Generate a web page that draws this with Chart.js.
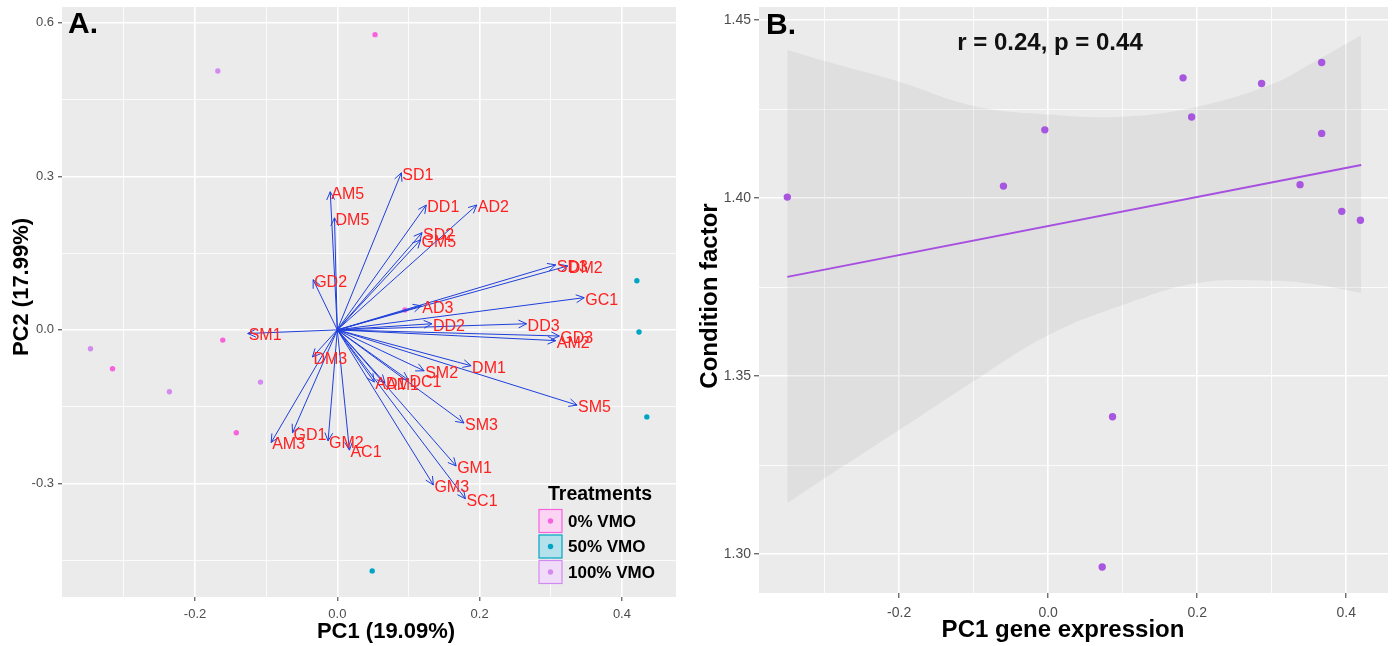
<!DOCTYPE html>
<html><head><meta charset="utf-8">
<script src="https://cdn.jsdelivr.net/npm/chart.js@4.4.1/dist/chart.umd.min.js"></script>
<style>
html,body{margin:0;padding:0;background:#fff;width:1395px;height:646px;overflow:hidden}
#ca{position:absolute;left:0;top:0}
#cb{position:absolute;left:680px;top:0}
</style></head><body>
<canvas id="ca" width="680" height="646"></canvas>
<canvas id="cb" width="715" height="646"></canvas>
<script>
// ---------- Panel A data (PCA biplot) ----------
const geneNames = ['SD1','AM5','DM5','DD1','AD2','SD2','GM5','SD3','DM2','GD2','GC1','AD3','DD2','DD3','GD3','AM2','DM1','SM2','SM5','SM3','GM1','GM3','SC1','AD1','AM1','DC1','DM3','GD1','AM3','GM2','AC1','SM1'];
const genePC1 = [0.090,-0.010,-0.004,0.125,0.196,0.119,0.117,0.307,0.324,-0.034,0.347,0.118,0.133,0.266,0.312,0.307,0.188,0.122,0.337,0.178,0.167,0.135,0.180,0.052,0.067,0.100,-0.035,-0.063,-0.093,-0.013,0.017,-0.126];
const genePC2 = [0.307,0.270,0.219,0.244,0.244,0.190,0.176,0.127,0.125,0.098,0.063,0.047,0.012,0.012,-0.012,-0.021,-0.070,-0.080,-0.147,-0.182,-0.266,-0.303,-0.330,-0.102,-0.104,-0.098,-0.053,-0.201,-0.220,-0.217,-0.235,-0.007];

const vmo0PC1 = [0.053,-0.161,-0.316,-0.142,0.095];
const vmo0PC2 = [0.577,-0.020,-0.076,-0.201,0.039];
const vmo50PC1 = [0.421,0.424,0.435,0.049];
const vmo50PC2 = [0.096,-0.004,-0.170,-0.471];
const vmo100PC1 = [-0.168,-0.347,-0.236,-0.108];
const vmo100PC2 = [0.506,-0.037,-0.121,-0.102];
const treatmentLabels = ['0% VMO','50% VMO','100% VMO'];

const pcaXTicks = [-0.3,-0.2,-0.1,0,0.1,0.2,0.3,0.4];
const pcaXMajor = [-0.2,0,0.2,0.4];
const pcaYTicks = [-0.45,-0.3,-0.15,0,0.15,0.3,0.45,0.6];
const pcaYMajor = [-0.3,0,0.3,0.6];

// ---------- Panel B data (correlation) ----------
const cfPC1 = [-0.350,-0.060,-0.0045,0.181,0.1925,0.2864,0.367,0.367,0.338,0.394,0.419,0.0864,0.0725];
const cfValue = [1.4003,1.4034,1.4192,1.4338,1.4228,1.4322,1.4381,1.4182,1.4038,1.3963,1.3938,1.3386,1.2964];
const fitX = [-0.35,0.42];
const fitY = [1.3779,1.4093];
const bandX = [-0.35,-0.3,-0.2,-0.1,0,0.1,0.2,0.3,0.35,0.42];
const bandUpper = [1.4416,1.4385,1.4327,1.4259,1.4235,1.4229,1.4257,1.4320,1.4375,1.4458];
const bandLower = [1.3143,1.3213,1.3349,1.3486,1.3615,1.3700,1.3762,1.3768,1.3760,1.3734];
const cfXTicks = [-0.3,-0.2,-0.1,0,0.1,0.2,0.3,0.4];
const cfXMajor = [-0.2,0,0.2,0.4];
const cfYTicks = [1.30,1.325,1.35,1.375,1.40,1.425,1.45];
const cfYMajor = [1.30,1.35,1.40,1.45];

// ---------- styles ----------
const FONT = '"Liberation Sans", Arial, sans-serif';
const PANEL_BG = '#EBEBEB';
const isIn = (arr, v) => arr.some(m => Math.abs(m - v) < 1e-9);
const pts = (xs, ys) => xs.map((x, i) => ({x, y: ys[i]}));

function gridOpts(majors, tickLen) {
  return {
    color: '#FFFFFF',
    lineWidth: c => (c.tick && isIn(majors, c.tick.value)) ? 1.6 : 0.8,
    tickColor: c => (c.tick && isIn(majors, c.tick.value)) ? '#333333' : 'rgba(0,0,0,0)',
    tickLength: tickLen, tickWidth: 1, drawTicks: true, drawOnChartArea: true
  };
}
function scaleOpts(min, max, ticks, majors, dec, size, pad, fontSize, tickLen) {
  return {
    type: 'linear', min, max,
    border: {display: false},
    grid: gridOpts(majors, tickLen),
    afterBuildTicks: s => { s.ticks = ticks.map(v => ({value: v})); },
    afterFit: s => {
      if (s.isHorizontal()) s.height = size; else s.width = size;
      s.paddingTop = 0; s.paddingBottom = 0; s.paddingLeft = 0; s.paddingRight = 0;
    },
    ticks: {
      autoSkip: false, maxRotation: 0, padding: pad, color: '#4D4D4D',
      font: {family: FONT, size: fontSize},
      callback: v => isIn(majors, v) ? v.toFixed(dec) : ''
    }
  };
}
const bgPlugin = {
  id: 'bg',
  beforeDraw(chart) {
    const {ctx, chartArea: a} = chart;
    ctx.save();
    ctx.fillStyle = '#FFFFFF';
    ctx.fillRect(0, 0, chart.width, chart.height);
    ctx.fillStyle = PANEL_BG;
    ctx.fillRect(a.left, a.top, a.right - a.left, a.bottom - a.top);
    ctx.restore();
  }
};
function text(ctx, s, x, y, font, color, align, rot) {
  ctx.save();
  ctx.font = font; ctx.fillStyle = color;
  ctx.textAlign = align || 'center'; ctx.textBaseline = 'middle';
  ctx.translate(x, y);
  if (rot) ctx.rotate(rot);
  ctx.fillText(s, 0, 0);
  ctx.restore();
}

// ---------- Panel A ----------
const arrowColor = '#1F3FDB';
const labelColor = '#FF2020';
const arrowDatasets = geneNames.map((g, i) => ({
  label: g, type: 'line', data: [{x: 0, y: 0}, {x: genePC1[i], y: genePC2[i]}],
  borderColor: arrowColor, borderWidth: 1, pointRadius: 0, showLine: true, fill: false
}));
const groupColors = ['#F763DC', '#00A5C4', '#D38BF0'];
const groupFills = ['#FBD3F3', '#B4E1EB', '#F0DCF8'];
const groupDatasets = [
  {label: treatmentLabels[0], data: pts(vmo0PC1, vmo0PC2)},
  {label: treatmentLabels[1], data: pts(vmo50PC1, vmo50PC2)},
  {label: treatmentLabels[2], data: pts(vmo100PC1, vmo100PC2)}
].map((d, i) => Object.assign(d, {
  type: 'line', showLine: false, pointRadius: 2.7, pointBorderWidth: 0,
  pointBackgroundColor: groupColors[i], borderColor: groupColors[i]
}));

const biplotPlugin = {
  id: 'biplot',
  afterDatasetsDraw(chart) {
    const {ctx} = chart;
    const xs = chart.scales.x, ys = chart.scales.y;
    const ox = xs.getPixelForValue(0), oy = ys.getPixelForValue(0);
    ctx.save();
    ctx.strokeStyle = arrowColor; ctx.lineWidth = 1;
    geneNames.forEach((g, i) => {
      const tx = xs.getPixelForValue(genePC1[i]), ty = ys.getPixelForValue(genePC2[i]);
      const ang = Math.atan2(ty - oy, tx - ox);
      const L = 9, w = 0.45;
      ctx.beginPath();
      ctx.moveTo(tx - L * Math.cos(ang - w), ty - L * Math.sin(ang - w));
      ctx.lineTo(tx, ty);
      ctx.lineTo(tx - L * Math.cos(ang + w), ty - L * Math.sin(ang + w));
      ctx.stroke();
    });
    ctx.restore();
    geneNames.forEach((g, i) => {
      const tx = xs.getPixelForValue(genePC1[i]), ty = ys.getPixelForValue(genePC2[i]);
      text(ctx, g, tx + 1, ty + 2.5, '16px ' + FONT, labelColor, 'left');
    });
  },
  afterDraw(chart) {
    const {ctx} = chart;
    text(ctx, 'A.', 68, 25, 'bold 30px ' + FONT, '#000', 'left');
    text(ctx, 'PC1 (19.09%)', 386, 632, 'bold 22px ' + FONT, '#000', 'center');
    text(ctx, 'PC2 (17.99%)', 22, 287, 'bold 22px ' + FONT, '#000', 'center', -Math.PI / 2);
    // legend
    text(ctx, 'Treatments', 548, 495, 'bold 19.5px ' + FONT, '#000', 'left');
    const rows = [521, 546.5, 572];
    rows.forEach((cy, i) => {
      ctx.save();
      ctx.fillStyle = groupFills[i];
      ctx.strokeStyle = groupColors[i];
      ctx.lineWidth = 1.2;
      ctx.fillRect(539, cy - 11.5, 23, 23);
      ctx.strokeRect(539, cy - 11.5, 23, 23);
      ctx.beginPath();
      ctx.fillStyle = groupColors[i];
      ctx.arc(550.5, cy, 2.7, 0, Math.PI * 2);
      ctx.fill();
      ctx.restore();
      text(ctx, treatmentLabels[i], 568, cy + 1, 'bold 17px ' + FONT, '#000', 'left');
    });
  }
};

new Chart(document.getElementById('ca'), {
  type: 'line',
  data: {datasets: arrowDatasets.concat(groupDatasets)},
  options: {
    responsive: false, animation: false, devicePixelRatio: 1, events: [],
    layout: {padding: {left: 0, top: 7, right: 3, bottom: 0}},
    plugins: {legend: {display: false}, tooltip: {enabled: false}, title: {display: false}},
    scales: {
      x: scaleOpts(-0.387, 0.476, pcaXTicks, pcaXMajor, 1, 49, 6, 13, 4),
      y: scaleOpts(-0.522, 0.631, pcaYTicks, pcaYMajor, 1, 62, 4, 13, 4)
    }
  },
  plugins: [bgPlugin, biplotPlugin]
});

// ---------- Panel B ----------
const cfColor = '#A855DF';
const corrPlugin = {
  id: 'corr',
  afterDraw(chart) {
    const {ctx} = chart;
    text(ctx, 'B.', 86, 26, 'bold 30px ' + FONT, '#000', 'left');
    text(ctx, 'r = 0.24, p = 0.44', 370, 43, 'bold 24px ' + FONT, '#111', 'center');
    text(ctx, 'PC1 gene expression', 383, 630, 'bold 24px ' + FONT, '#000', 'center');
    text(ctx, 'Condition factor', 30, 296, 'bold 24px ' + FONT, '#000', 'center', -Math.PI / 2);
  }
};
new Chart(document.getElementById('cb'), {
  type: 'line',
  data: {
    datasets: [
      {label: 'Condition factor', data: pts(cfPC1, cfValue), showLine: false,
       pointRadius: 3.7, pointBorderWidth: 0, pointBackgroundColor: cfColor, borderColor: cfColor},
      {label: 'fit', data: pts(fitX, fitY), showLine: true, borderColor: '#A64FE0',
       borderWidth: 2, pointRadius: 0, fill: false},
      {label: 'upper', data: pts(bandX, bandUpper), showLine: true, borderWidth: 0,
       borderColor: 'rgba(0,0,0,0)', pointRadius: 0, tension: 0.4,
       fill: '+1', backgroundColor: 'rgba(150,150,150,0.13)'},
      {label: 'lower', data: pts(bandX, bandLower), showLine: true, borderWidth: 0,
       borderColor: 'rgba(0,0,0,0)', pointRadius: 0, tension: 0.4, fill: false}
    ]
  },
  options: {
    responsive: false, animation: false, devicePixelRatio: 1, events: [],
    layout: {padding: {left: 0, top: 7, right: 7, bottom: 0}},
    plugins: {legend: {display: false}, tooltip: {enabled: false}, title: {display: false}},
    scales: {
      x: scaleOpts(-0.388, 0.456, cfXTicks, cfXMajor, 1, 53, 7, 14, 5),
      y: scaleOpts(1.2891, 1.4537, cfYTicks, cfYMajor, 2, 79, 3, 14, 5)
    }
  },
  plugins: [bgPlugin, corrPlugin]
});
</script>
</body></html>
